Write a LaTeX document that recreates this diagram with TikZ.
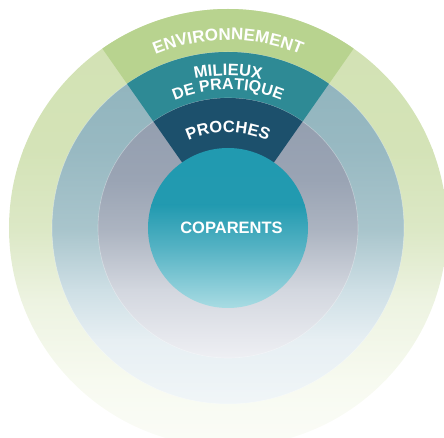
\documentclass[tikz,border=0pt]{standalone}
\usepackage{fontspec}
\setmainfont{Liberation Sans}
\usetikzlibrary{decorations.text}
\definecolor{envW}{HTML}{B8D38F}
\definecolor{milW}{HTML}{2E8A95}
\definecolor{proW}{HTML}{1C506C}
\definecolor{o1}{HTML}{D2E2B3}
\definecolor{o2}{HTML}{D4E3B7}
\definecolor{o3}{HTML}{DCE8C6}
\definecolor{o4}{HTML}{EDF3E1}
\definecolor{o5}{HTML}{F7FAF0}
\definecolor{o6}{HTML}{FBFCF8}
\definecolor{m1}{HTML}{8FB3BC}
\definecolor{m2}{HTML}{98B9C2}
\definecolor{m3}{HTML}{A9C5CC}
\definecolor{m4}{HTML}{CEDFE5}
\definecolor{m5}{HTML}{E7EFF3}
\definecolor{m6}{HTML}{F1F6F8}
\definecolor{p1}{HTML}{929DAE}
\definecolor{p2}{HTML}{9AA4B4}
\definecolor{p3}{HTML}{ACB4C1}
\definecolor{p4}{HTML}{D3D7DF}
\definecolor{p5}{HTML}{EFF0F4}
\definecolor{c1}{HTML}{219AB0}
\definecolor{c2}{HTML}{229AB0}
\definecolor{c3}{HTML}{58B4C5}
\definecolor{c4}{HTML}{ABDDE4}
\newcommand\gseg[4]{\shade[top color=#3,bottom color=#4] (-235pt,#1) rectangle (235pt,#2);}
\newcommand\lblfont{\bfseries\fontsize{16.5}{16.5}\selectfont}
\newcommand\envfont{\bfseries\fontsize{17}{17}\selectfont}
\newcommand\dpfont{\bfseries\fontsize{16}{16}\selectfont}
\tikzset{
  ringedge/.style={draw=white, draw opacity=0.35, line width=0.6pt},
  arclabel/.style={decorate, decoration={text along path, text align=center, text color=white, text={#1}}}
}
\begin{document}
\begin{tikzpicture}
\useasboundingbox (-228pt,-210pt) rectangle (216pt,228pt);
% outer disk
\begin{scope}
\clip (0,0) circle[radius=219pt];
\gseg{230pt}{77.5pt}{o1}{o2}
\gseg{78pt}{-2.5pt}{o2}{o3}
\gseg{-2pt}{-72.5pt}{o3}{o4}
\gseg{-72pt}{-152.5pt}{o4}{o5}
\gseg{-152pt}{-222pt}{o5}{o6}
\end{scope}
\fill[envW] (0,0) -- (55:219pt) arc[start angle=55, end angle=125, radius=219pt] -- cycle;
% milieux disk
\begin{scope}
\clip (0,0) circle[radius=176pt];
\gseg{178pt}{77.5pt}{m1}{m2}
\gseg{78pt}{-2.5pt}{m2}{m3}
\gseg{-2pt}{-62.5pt}{m3}{m4}
\gseg{-62pt}{-112.5pt}{m4}{m5}
\gseg{-112pt}{-178pt}{m5}{m6}
\end{scope}
\path[ringedge] (0,0) circle[radius=176pt];
\fill[milW] (0,0) -- (55:176pt) arc[start angle=55, end angle=125, radius=176pt] -- cycle;
% proches disk
\begin{scope}
\clip (0,0) circle[radius=130pt];
\gseg{132pt}{47.5pt}{p1}{p2}
\gseg{48pt}{-2.5pt}{p2}{p3}
\gseg{-2pt}{-62.5pt}{p3}{p4}
\gseg{-62pt}{-132pt}{p4}{p5}
\end{scope}
\path[ringedge] (0,0) circle[radius=130pt];
\fill[proW] (0,0) -- (55:130pt) arc[start angle=55, end angle=125, radius=130pt] -- cycle;
% coparents disk
\begin{scope}
\clip (0,0) circle[radius=80pt];
\gseg{82pt}{22.5pt}{c1}{c2}
\gseg{23pt}{-22.5pt}{c2}{c3}
\gseg{-22pt}{-82pt}{c3}{c4}
\end{scope}
% labels
\path[arclabel={|\envfont|ENVIRONNEMENT}] (125:188pt) arc[start angle=125, end angle=55, radius=188pt];
\path[arclabel={|\lblfont|MILIEUX}] (125:152.5pt) arc[start angle=125, end angle=55, radius=152.5pt];
\path[arclabel={|\dpfont|DE PRATIQUE}] (125:138.5pt) arc[start angle=125, end angle=55, radius=138.5pt];
\path[arclabel={|\lblfont|PROCHES}] (125:95.5pt) arc[start angle=125, end angle=55, radius=95.5pt];
\node[text=white, inner sep=0pt, font=\lblfont] (coparents) at (3.5pt,-0.3pt) {COPARENTS};
\end{tikzpicture}
\end{document}
